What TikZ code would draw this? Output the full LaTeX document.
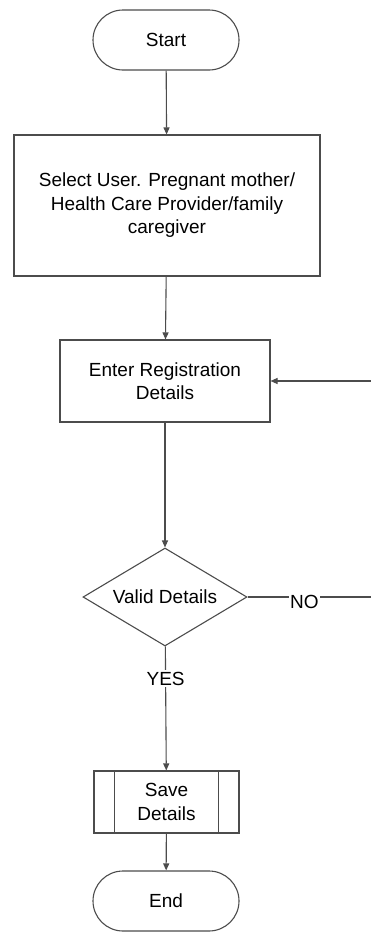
\documentclass[tikz,border=0pt]{standalone}
\usepackage{fontspec}
\setmainfont{Liberation Sans}
\usetikzlibrary{arrows.meta,shapes.misc,shapes.geometric}

\begin{document}
\begin{tikzpicture}[x=1pt,y=1pt,
      base/.style={
        draw=black!70,
        line width=1.1pt,
        font=\fontsize{19}{23.5}\selectfont,
        align=center,
        inner sep=0pt
      },
      terminal/.style={base, rounded rectangle, minimum width=146pt, minimum height=60pt},
      process/.style={base, rectangle},
      decision/.style={base, diamond, aspect=1.67, minimum width=164pt, minimum height=98pt},
      subproc/.style={base, rectangle, minimum width=145pt, minimum height=62pt},
      >={Triangle[length=7pt,width=6pt]},
      flow/.style={->, draw=black!70, line width=1.1pt},
      every label/.style={font=\fontsize{19}{23.5}\selectfont}
    ]
    \useasboundingbox (0,0) rectangle (371,-932);
    \node[terminal] (start) at (166,-40) {Start};
    \node[process,minimum width=306pt,minimum height=141pt] (select) at (167,-205.5)
      {Select User. Pregnant mother/\\Health Care Provider/family\\caregiver};
    \node[process,minimum width=210pt,minimum height=82pt] (enter) at (165,-381)
      {Enter Registration\\Details};
    \node[decision] (valid) at (165,-597) {Valid Details};
    \node[subproc] (save) at (166.5,-802) {Save\\Details};
    \node[terminal] (end) at (166,-901) {End};
    \coordinate (loopin) at (371,-381);
    \coordinate (loopout) at (371,-597);
    % bars of the subprocess box
    \draw[draw=black!70,line width=1.4pt] ([xshift=21pt]save.north west) -- ([xshift=21pt]save.south west);
    \draw[draw=black!70,line width=1.4pt] ([xshift=-21pt]save.north east) -- ([xshift=-21pt]save.south east);
    \draw[flow] (start) -- (select);
    \draw[flow] (select) -- (enter);
    \draw[flow] (enter) -- (valid);
    \draw[flow] (valid) -- node[pos=0.26,fill=white,inner sep=2pt,font=\fontsize{19}{23.5}\selectfont] {YES} (save);
    \draw[flow] (save) -- (end);
    \draw[draw=black!70,line width=1.1pt] (valid) -- node[pos=0.46,fill=white,inner sep=1pt,yshift=-5pt,font=\fontsize{19}{23.5}\selectfont] {NO} (loopout);
    \draw[flow] (loopin) -- (enter);
  \end{tikzpicture}
\end{document}
